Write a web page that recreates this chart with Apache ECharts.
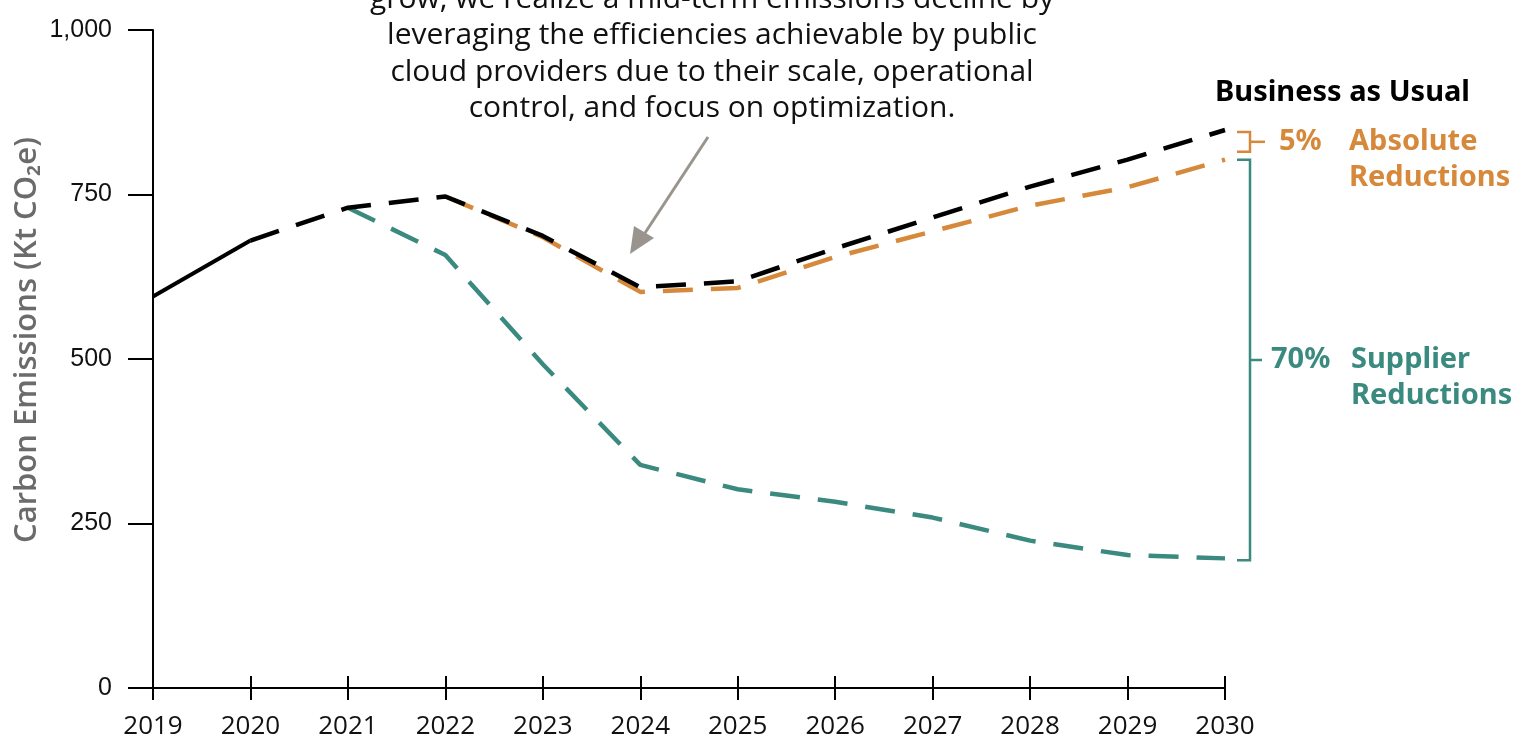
<!DOCTYPE html>
<html>
<head>
<meta charset="utf-8">
<script src="https://cdn.jsdelivr.net/npm/echarts@6/dist/echarts.min.js"></script>
<style>
  html, body { margin: 0; padding: 0; background: #fff; }
  #chart { width: 1519px; height: 740px; }
</style>
</head>
<body>
<div id="chart"></div>
<script>
  var years = ['2019', '2020', '2021', '2022', '2023', '2024', '2025', '2026', '2027', '2028', '2029', '2030']
  // business as usual, actual part (solid) and projection (dashed)
  var bauActual = [595, 680, null, null, null, null, null, null, null, null, null, null]
  var bauProjected = [null, 680, 730, 747, 687, 609, 618, 668, 715, 762, 803, 848]
  var absoluteReductions = [null, null, null, 747, 685, 602, 608, 655, 694, 733, 761, 803]
  var supplierReductions = [null, null, 730, 658, 492, 339, 302, 283, 259, 224, 202, 197]
  var yTicks = [0, 250, 500, 750, 1000]

  var BLACK = '#000000'
  var ORANGE = '#d6893a'
  var TEAL = '#3b8a80'

  var chart = echarts.init(document.getElementById('chart'))

  var xAxisBase = {
    type: 'category',
    data: years,
    boundaryGap: false,
    axisLine: { show: true, lineStyle: { color: BLACK, width: 2 } },
    splitLine: { show: false }
  }

  var option = {
    animation: false,
    backgroundColor: '#ffffff',
    grid: { left: 153, right: 294, top: 30, bottom: 50, containLabel: false },
    xAxis: [
      Object.assign({}, xAxisBase, {
        axisTick: { show: true, inside: false, length: 12, alignWithLabel: true, lineStyle: { color: BLACK, width: 2 } },
        axisLabel: { margin: 26, fontSize: 26, color: '#111', fontFamily: 'Open Sans' }
      }),
      Object.assign({}, xAxisBase, {
        position: 'bottom',
        axisTick: { show: true, inside: true, length: 12, alignWithLabel: true, lineStyle: { color: BLACK, width: 2 } },
        axisLabel: { show: false }
      })
    ],
    yAxis: {
      type: 'value',
      min: yTicks[0],
      max: yTicks[yTicks.length - 1],
      interval: 250,
      axisLine: { show: true, lineStyle: { color: BLACK, width: 2 } },
      axisTick: { show: true, length: 25, lineStyle: { color: BLACK, width: 2 } },
      splitLine: { show: false },
      axisLabel: {
        margin: 41,
        fontSize: 25,
        color: '#111',
        fontFamily: 'Liberation Sans',
        formatter: function (v) { return v.toLocaleString('en-US') }
      }
    },
    series: [
      {
        type: 'line', data: absoluteReductions, symbol: 'none', z: 2,
        lineStyle: { color: ORANGE, width: 4.5, type: [30, 18] }
      },
      {
        type: 'line', data: supplierReductions, symbol: 'none', z: 2,
        lineStyle: { color: TEAL, width: 4.5, type: [30, 18] }
      },
      {
        type: 'line', data: bauProjected, symbol: 'none', z: 3,
        lineStyle: { color: BLACK, width: 4.5, type: [30, 18] }
      },
      {
        type: 'line', data: bauActual, symbol: 'none', z: 3,
        lineStyle: { color: BLACK, width: 4, type: 'solid' }
      }
    ]
  }
  chart.setOption(option)

  // annotations positioned from the 2030 values through the axes
  var last = years.length - 1
  var pBau = chart.convertToPixel({ gridIndex: 0 }, [years[last], bauProjected[last]])
  var pAbs = chart.convertToPixel({ gridIndex: 0 }, [years[last], absoluteReductions[last]])
  var pSup = chart.convertToPixel({ gridIndex: 0 }, [years[last], supplierReductions[last]])
  var bx = pBau[0] + 25

  var orTop = pBau[1] + 2, orBot = pAbs[1] - 8, orMid = (orTop + orBot) / 2
  var teTop = pAbs[1] + 0, teBot = pSup[1] + 2, teMid = (teTop + teBot) / 2

  var labelFont = { fontFamily: 'Noto Sans', fontWeight: 'bold', fontSize: 29 }

  chart.setOption({
    graphic: [
      {
        type: 'text', z: 10, x: 27, y: 340, rotation: Math.PI / 2,
        style: {
          text: 'Carbon Emissions (Kt CO\u2082e)',
          align: 'center', verticalAlign: 'middle',
          fill: '#6b6b6b', fontSize: 31, fontFamily: 'Open Sans', fontWeight: 600
        }
      },
      {
        type: 'text', z: 10, x: 712, y: -19,
        style: {
          text: 'grow, we realize a mid-term emissions decline by\nleveraging the efficiencies achievable by public\ncloud providers due to their scale, operational\ncontrol, and focus on optimization.',
          align: 'center', fill: '#111', fontSize: 30, lineHeight: 36.5, fontFamily: 'Open Sans'
        }
      },
      {
        type: 'line', z: 10,
        shape: { x1: 708, y1: 137, x2: 643, y2: 236 },
        style: { stroke: '#9a948f', lineWidth: 3 }
      },
      {
        type: 'polygon', z: 10,
        shape: { points: [[630, 254], [634, 226], [654, 238]] },
        style: { fill: '#9a948f' }
      },
      {
        type: 'text', z: 10,
        style: Object.assign({ x: 1215, y: 93, text: 'Business as Usual', fill: BLACK, verticalAlign: 'middle' }, labelFont)
      },
      {
        type: 'polyline', z: 10,
        shape: { points: [[bx - 13, orTop], [bx, orTop], [bx, orBot], [bx - 13, orBot]] },
        style: { stroke: ORANGE, lineWidth: 2.5, fill: null }
      },
      {
        type: 'line', z: 10,
        shape: { x1: bx, y1: orMid, x2: bx + 15, y2: orMid },
        style: { stroke: ORANGE, lineWidth: 2.5 }
      },
      {
        type: 'text', z: 10,
        style: Object.assign({ x: 1279, y: orMid, text: '5%', fill: ORANGE, verticalAlign: 'middle' }, labelFont)
      },
      {
        type: 'text', z: 10,
        style: Object.assign({ x: 1349, y: orMid + 18, text: 'Absolute\nReductions', fill: ORANGE, verticalAlign: 'middle', lineHeight: 36 }, labelFont)
      },
      {
        type: 'polyline', z: 10,
        shape: { points: [[bx - 13, teTop], [bx, teTop], [bx, teBot], [bx - 13, teBot]] },
        style: { stroke: TEAL, lineWidth: 2.5, fill: null }
      },
      {
        type: 'line', z: 10,
        shape: { x1: bx, y1: teMid, x2: bx + 12, y2: teMid },
        style: { stroke: TEAL, lineWidth: 2.5 }
      },
      {
        type: 'text', z: 10,
        style: Object.assign({ x: 1271, y: teMid, text: '70%', fill: TEAL, verticalAlign: 'middle' }, labelFont)
      },
      {
        type: 'text', z: 10,
        style: Object.assign({ x: 1351, y: teMid + 18, text: 'Supplier\nReductions', fill: TEAL, verticalAlign: 'middle', lineHeight: 36 }, labelFont)
      }
    ]
  })

  window.addEventListener('resize', function () {
    chart.resize()
  })
</script>
</body>
</html>
